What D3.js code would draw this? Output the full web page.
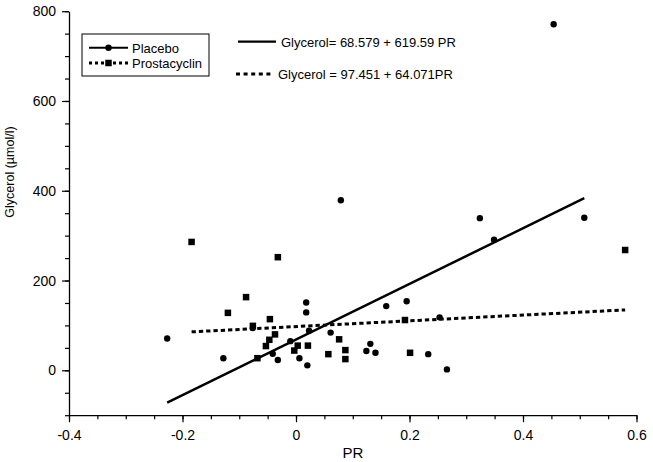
<!DOCTYPE html>
<html><head><meta charset="utf-8">
<script src="https://cdn.jsdelivr.net/npm/d3@7"></script>
<style>body{margin:0;background:#fff}svg{display:block}text{font-family:"Liberation Sans",Arial,sans-serif;fill:#000}</style>
</head><body>
<script>
const placeboX = [-0.227, -0.128, -0.076, -0.041, -0.032, -0.010, 0.006, 0.018, 0.018, 0.020, 0.023, 0.061, 0.079, 0.124, 0.131, 0.140, 0.159, 0.195, 0.233, 0.253, 0.266, 0.324, 0.349, 0.454, 0.508];
const placeboY = [71, 27, 94, 37, 23, 65, 27, 151, 129, 11, 88, 84, 379, 43, 59, 39, 143, 154, 36, 118, 2, 339, 291, 771, 340];
const prostaX = [-0.184, -0.120, -0.088, -0.076, -0.068, -0.053, -0.047, -0.046, -0.037, -0.032, -0.003, 0.003, 0.021, 0.057, 0.076, 0.087, 0.087, 0.192, 0.201, 0.580];
const prostaY = [286, 128, 163, 99, 27, 54, 68, 114, 80, 252, 44, 55, 55, 36, 69, 45, 25, 112, 39, 268];
const placeboFit = [68.579, 619.59];
const prostaFit = [97.451, 64.071];
const xTicks = [-0.4, -0.2, 0, 0.2, 0.4, 0.6];
const yTicks = [0, 200, 400, 600, 800];
const legendLabels = ["Placebo", "Prostacyclin"];
const eqLabels = ["Glycerol= 68.579 + 619.59 PR", "Glycerol = 97.451 + 64.071PR"];
const xTitle = "PR", yTitle = "Glycerol (\u00b5mol/l)";

const W = 653, H = 462;
const svg = d3.select("body").append("svg").attr("width", W).attr("height", H);
const x = d3.scaleLinear().domain([-0.4, 0.6]).range([69, 636.5]);
const y = d3.scaleLinear().domain([-100, 800]).range([415.2, 11.2]);
const fmt = d => String(+(+d).toFixed(1)).replace("\u2212", "-");

// axes
const xAxis = svg.append("g").attr("transform", "translate(0,415.2)");
xAxis.call(d3.axisBottom(x).tickValues(d3.range(-0.4, 0.6001, 0.05)).tickFormat("").tickSize(4).tickSizeOuter(0));
xAxis.append("g").call(d3.axisBottom(x).tickValues(xTicks).tickFormat(fmt).tickSize(7).tickSizeOuter(0).tickPadding(8));
const yAxis = svg.append("g").attr("transform", "translate(69,0)");
yAxis.call(d3.axisLeft(y).tickValues(d3.range(-100, 800.1, 50)).tickFormat("").tickSize(4).tickSizeOuter(0));
yAxis.append("g").call(d3.axisLeft(y).tickValues(yTicks).tickFormat(fmt).tickSize(7).tickSizeOuter(0).tickPadding(6));
svg.selectAll(".domain").attr("stroke", "#000").attr("stroke-width", 1.3);
svg.selectAll(".tick line").attr("stroke", "#000").attr("stroke-width", 1.2);
svg.selectAll(".tick text").style("font-size", "14px").attr("font-family", "Liberation Sans, Arial, sans-serif").attr("fill", "#000");
xAxis.selectAll(".domain").filter((d, i, n) => n[i].parentNode !== xAxis.node()).remove();
yAxis.selectAll(".domain").filter((d, i, n) => n[i].parentNode !== yAxis.node()).remove();

svg.append("text").attr("x", 353).attr("y", 457.5).attr("text-anchor", "middle").style("font-size", "15px").text(xTitle);
svg.append("text").attr("transform", "translate(14,172) rotate(-90)").attr("text-anchor", "middle").style("font-size", "12.5px").text(yTitle);

// regression lines
function fitLine(xs, fit) {
  const ext = d3.extent(xs);
  return ext.map(v => [v, fit[0] + fit[1] * v]);
}
const line = d3.line().x(d => x(d[0])).y(d => y(d[1]));
svg.append("path").attr("d", line(fitLine(placeboX, placeboFit))).attr("stroke", "#000").attr("stroke-width", 2.5).attr("fill", "none");
svg.append("path").attr("d", line(fitLine(prostaX, prostaFit))).attr("stroke", "#000").attr("stroke-width", 3).attr("stroke-dasharray", "4.3,3").attr("fill", "none");

// points
svg.append("g").selectAll("circle").data(placeboX.map((v, i) => [v, placeboY[i]])).join("circle")
  .attr("cx", d => x(d[0])).attr("cy", d => y(d[1])).attr("r", 3.2).attr("fill", "#000");
const s = 6.5;
svg.append("g").selectAll("rect").data(prostaX.map((v, i) => [v, prostaY[i]])).join("rect")
  .attr("x", d => x(d[0]) - s / 2).attr("y", d => y(d[1]) - s / 2).attr("width", s).attr("height", s).attr("fill", "#000");

// legend
const lg = svg.append("g");
lg.append("rect").attr("x", 82).attr("y", 34).attr("width", 127).attr("height", 42).attr("fill", "#fff").attr("stroke", "#000").attr("stroke-width", 1);
lg.append("line").attr("x1", 89).attr("x2", 128).attr("y1", 47.7).attr("y2", 47.7).attr("stroke", "#000").attr("stroke-width", 2);
lg.append("circle").attr("cx", 108.5).attr("cy", 47.7).attr("r", 3.2).attr("fill", "#000");
lg.append("line").attr("x1", 89).attr("x2", 128).attr("y1", 63).attr("y2", 63).attr("stroke", "#000").attr("stroke-width", 2.8).attr("stroke-dasharray", "3,3");
lg.append("rect").attr("x", 108.5 - s / 2).attr("y", 63 - s / 2).attr("width", s).attr("height", s).attr("fill", "#000");
lg.append("text").attr("x", 132).attr("y", 52.5).style("font-size", "13px").text(legendLabels[0]);
lg.append("text").attr("x", 132).attr("y", 67.8).style("font-size", "13px").text(legendLabels[1]);

// equations
svg.append("line").attr("x1", 238).attr("x2", 276).attr("y1", 41.7).attr("y2", 41.7).attr("stroke", "#000").attr("stroke-width", 2.2);
svg.append("text").attr("x", 281).attr("y", 46.5).style("font-size", "13px").text(eqLabels[0]);
svg.append("line").attr("x1", 236).attr("x2", 273).attr("y1", 74).attr("y2", 74).attr("stroke", "#000").attr("stroke-width", 2.8).attr("stroke-dasharray", "4,3.6");
svg.append("text").attr("x", 278).attr("y", 78.8).style("font-size", "13px").text(eqLabels[1]);
</script>
</body></html>
